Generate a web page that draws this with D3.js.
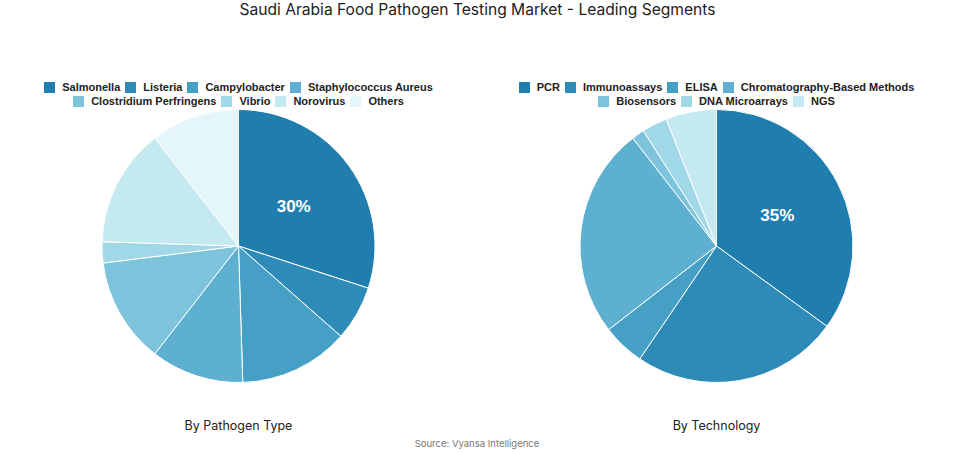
<!DOCTYPE html>
<html><head><meta charset="utf-8">
<script src="https://cdn.jsdelivr.net/npm/d3@7"></script>
<style>
body{margin:0;background:#fff}
#wrap{position:relative;width:955px;height:454px}
svg{display:block;position:absolute;left:0;top:0}
.legend{position:absolute;display:flex;flex-wrap:wrap;justify-content:center;align-content:flex-start;
  font-family:'Liberation Sans',Arial,sans-serif;font-weight:bold;font-size:11px;color:#222;line-height:14px}
.legend .it{display:flex;align-items:center;margin:0 2.5px;white-space:nowrap}
.legend .sw{width:11px;height:11px;margin-right:7px;flex:none}
</style>
</head><body>
<div id="wrap"><svg id="c" width="955" height="454"></svg></div>
<script>
const pathogenLabels = ["Salmonella","Listeria","Campylobacter","Staphylococcus Aureus","Clostridium Perfringens","Vibrio","Norovirus","Others"];
const pathogenValues = [30, 6.5, 13, 11, 12.5, 2.5, 14, 10.5];
const techLabels = ["PCR","Immunoassays","ELISA","Chromatography-Based Methods","Biosensors","DNA Microarrays","NGS"];
const techValues = [35, 24.5, 5, 25, 1.5, 3, 6];
const palette = ["#1f7eae","#2e8bb8","#46a0c6","#5eb0d0","#7cc3db","#a1d8e7","#c5e9f0","#e5f6fa"];
const titleText = "Saudi Arabia Food Pathogen Testing Market - Leading Segments";
const subtitles = ["By Pathogen Type","By Technology"];
const sourceText = "Source: Vyansa Intelligence";

const svg = d3.select("#c");
svg.append("text").attr("x",477.5).attr("y",15).attr("text-anchor","middle")
  .attr("font-family","Inter, 'Open Sans', sans-serif").attr("font-size",15.6).attr("fill","#222")
  .text(titleText);

function drawPie(cx, cy, r, labels, values, subtitle, legW) {
  const color = d3.scaleOrdinal().domain(labels).range(palette);
  const pie = d3.pie().sort(null).value(d => d.v);
  const data = pie(labels.map((l,i)=>({l, v: values[i]})));
  const arc = d3.arc().innerRadius(0).outerRadius(r);
  const g = svg.append("g").attr("transform",`translate(${cx},${cy})`);
  g.selectAll("path").data(data).join("path")
    .attr("d", arc).attr("fill", d => color(d.data.l))
    .attr("stroke","#fff").attr("stroke-width",1);
  const top = data[0];
  const c = arc.centroid(top);
  g.append("text").attr("x",c[0]).attr("y",c[1]).attr("dy","0.35em").attr("text-anchor","middle")
    .attr("font-family","'Liberation Sans', Arial, sans-serif").attr("font-weight","bold")
    .attr("font-size",17).attr("fill","#fff").text(Math.round(top.data.v)+"%");

  const lg = d3.select("#wrap").append("div").attr("class","legend")
    .style("left",(cx-legW/2)+"px").style("top","80px").style("width",legW+"px");
  const it = lg.selectAll(".it").data(labels).join("div").attr("class","it");
  it.append("div").attr("class","sw").style("background", d => color(d));
  it.append("span").text(d => d);

  svg.append("text").attr("x",cx).attr("y",430).attr("text-anchor","middle")
    .attr("font-family","Inter, 'Open Sans', sans-serif").attr("font-size",12.5).attr("fill","#222")
    .text(subtitle);
}
drawPie(238.5, 246, 136.5, pathogenLabels, pathogenValues, subtitles[0], 410);
drawPie(716.5, 246, 136.5, techLabels, techValues, subtitles[1], 410);

svg.append("text").attr("x",477).attr("y",447).attr("text-anchor","middle")
  .attr("font-family","Inter, 'Open Sans', sans-serif").attr("font-size",9.5).attr("fill","#777")
  .text(sourceText);
</script>
</body></html>
